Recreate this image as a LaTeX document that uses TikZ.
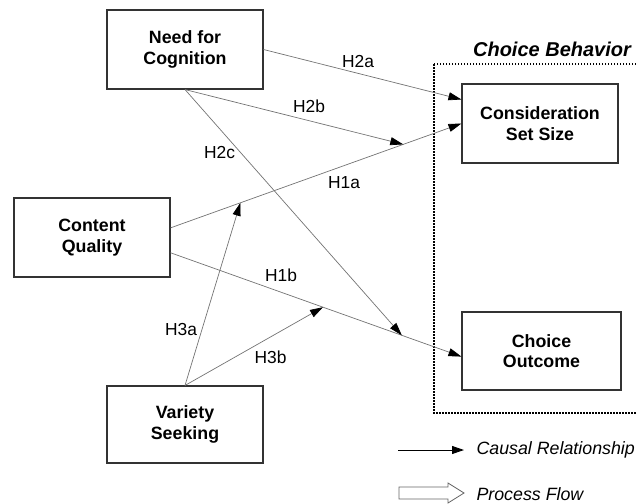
\documentclass[tikz,border=0pt]{standalone}
\usepackage{fontspec}
\setmainfont{Liberation Sans}
\usetikzlibrary{positioning,arrows.meta}

\begin{document}
\begin{tikzpicture}[x=1pt, y=-1pt,
        box/.style={draw=black!80, line width=1.1pt, minimum width=156pt, minimum height=79pt,
            align=center, font=\fontsize{17.8}{20.5}\selectfont\bfseries},
        hyp/.style={font=\fontsize{17.4}{20}\selectfont},
        legendtext/.style={anchor=west, font=\fontsize{17.8}{20}\selectfont\itshape},
        edge_style/.style={draw=black!55, line width=0.7pt,
            -{Triangle[length=13pt, width=8pt, color=black]}}]
        \useasboundingbox (0,0) rectangle (636,503);
        % constructs
        \node[box] (nfc) at (185, 49.5) {Need for\\Cognition};
        \node[box] (cq) at (92, 237.5) {Content\\Quality};
        \node[box, minimum height=77pt] (vs) at (185, 424.5) {Variety\\Seeking};
        \node[box] (css) at (540, 123.5) {Consideration\\Set Size};
        \node[box, minimum width=159pt, minimum height=78pt] (co) at (541.5, 351) {Choice\\Outcome};
        % choice behavior frame
        \coordinate (cbnw) at (434, 64);
        \coordinate (cbse) at (642, 413);
        \draw[line width=1.5pt, dash pattern=on 1.5pt off 1.5pt] (cbnw) rectangle (cbse);
        \node[font=\fontsize{20}{24}\selectfont\bfseries\itshape] (cb) at (552, 49) {Choice Behavior};
        % main effects
        \draw[edge_style] (cq.7) -- (css.west)
            coordinate[pos=0.24] (m3a) coordinate[pos=0.8] (m2b);
        \draw[edge_style] (cq.349) -- (co.184)
            coordinate[pos=0.524] (m3b) coordinate[pos=0.795] (m2c);
        \draw[edge_style] (nfc.east) -- (css.163);
        % moderations
        \draw[edge_style] (nfc.south) -- (m2b);
        \draw[edge_style] (nfc.south) -- (m2c);
        \draw[edge_style] (vs.north) -- (m3a);
        \draw[edge_style] (vs.north) -- (m3b);
        % labels
        \node[hyp] (h2a) at (358, 62) {H2a};
        \node[hyp] (h2b) at (309, 106) {H2b};
        \node[hyp] (h2c) at (219.5, 153) {H2c};
        \node[hyp] (h1a) at (344, 183) {H1a};
        \node[hyp] (h1b) at (281, 275.5) {H1b};
        \node[hyp] (h3a) at (181, 330) {H3a};
        \node[hyp] (h3b) at (270.5, 357) {H3b};
        % legend
        \coordinate (ca) at (398, 450);
        \coordinate (cb2) at (464, 450);
        \draw[line width=0.9pt, -{Triangle[length=12pt, width=8pt]}] (ca) -- (cb2);
        \node[legendtext] (causal) at (473, 450) {Causal Relationship};
        \draw[draw=black!60, line width=0.8pt, fill=white]
            (399, 487) -- (448, 487) -- (448, 483) -- (464, 493) -- (448, 503)
            -- (448, 499) -- (399, 499) -- cycle;
        \node[legendtext] (process) at (473, 494) {Process Flow};
\end{tikzpicture}
\end{document}
